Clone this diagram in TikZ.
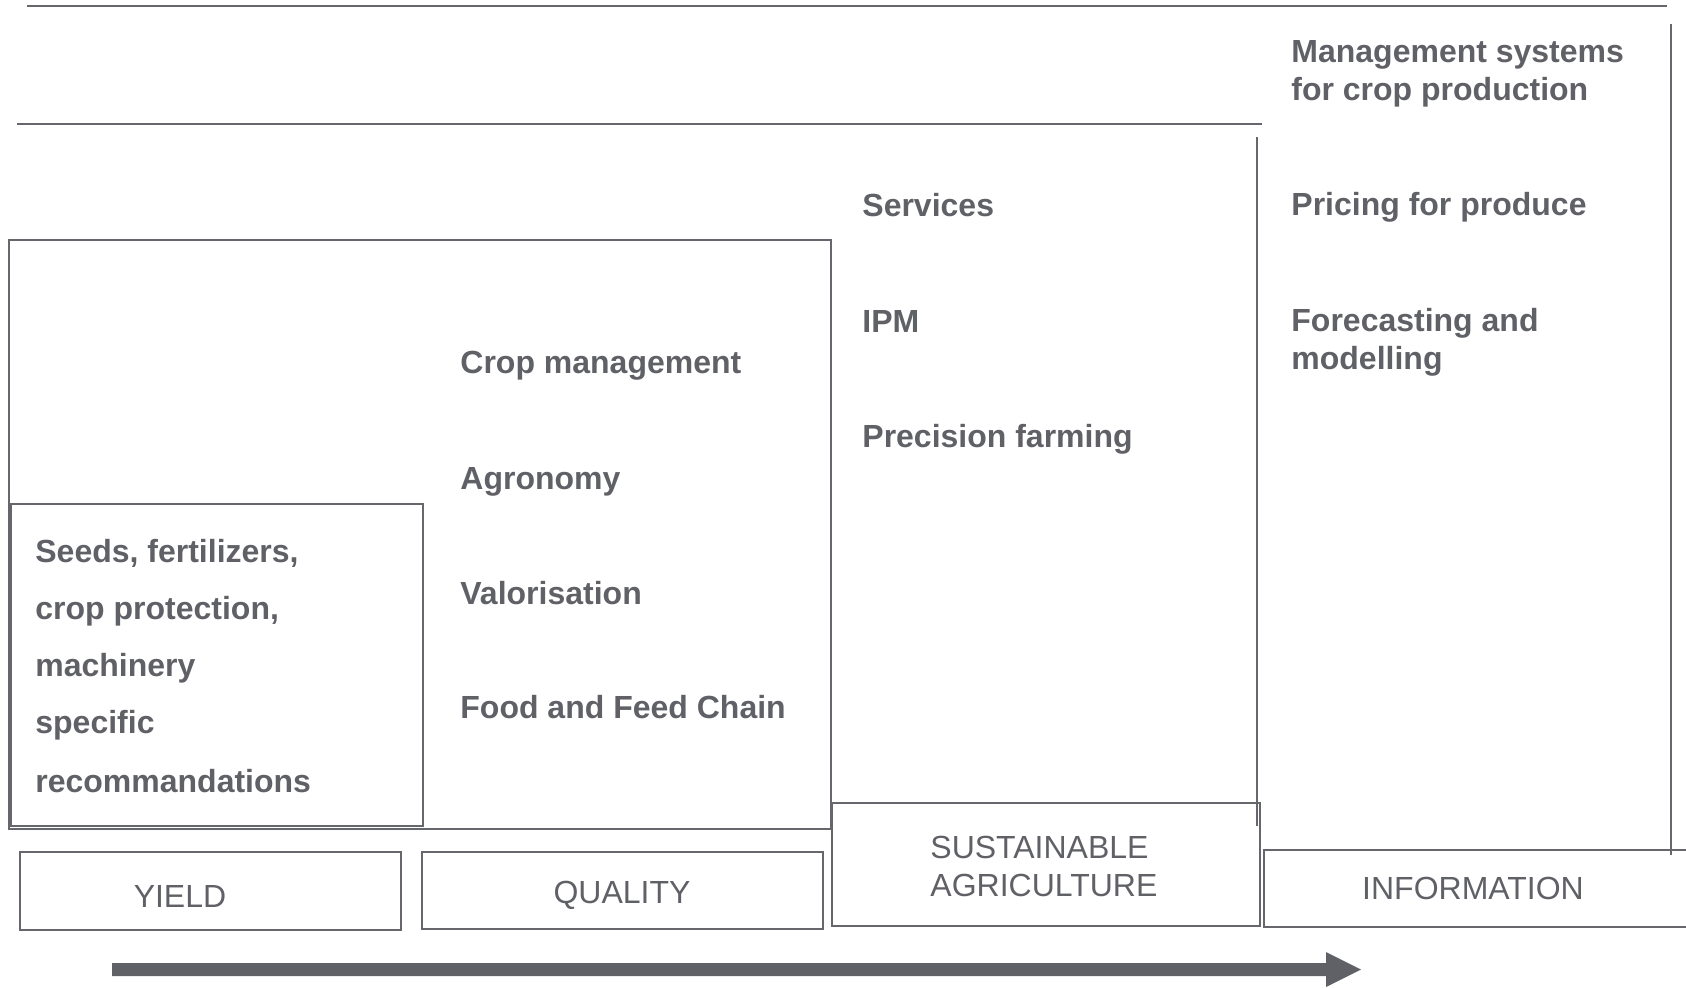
\documentclass[tikz,border=0pt]{standalone}
\usepackage{fontspec}
\setmainfont{Liberation Sans}
\definecolor{ink}{RGB}{96,97,103}
\definecolor{rule}{RGB}{102,103,108}
\begin{document}
\begin{tikzpicture}[x=0.5pt,y=-0.5pt,
  frame/.style={draw=rule,line width=1.3pt},
  item/.style={anchor=base west,inner sep=0pt,text=ink,
    font=\fontsize{16}{19}\selectfont\bfseries},
  tag/.style={anchor=base,inner sep=0pt,text=ink,
    font=\fontsize{16}{19}\selectfont},
  tagl/.style={tag,anchor=base west}]
\useasboundingbox (0,0) rectangle (1686,987);

% horizontal rules at the top
\draw[frame] (27,6) -- (1667,6);
\draw[frame] (17,124) -- (1262,124);

% nested frames
\draw[frame] (9,240) rectangle (831,829);
\draw[frame] (11,504) rectangle (423,826);
\draw[frame] (1257,137) -- (1257,826);
\draw[frame] (1671,24) -- (1671,855);

% category boxes
\draw[frame] (20,852) rectangle (401,930);
\draw[frame] (422,852) rectangle (823,929);
\draw[frame] (832,803) rectangle (1260,926);
\draw[frame] (1690,850) -- (1264,850) -- (1264,927) -- (1690,927);

% category labels
\node[tag]  (yield)   at (180,907) {YIELD};
\node[tag]  (quality) at (622,903) {QUALITY};
\node[tagl] (sust1)   at (930,858) {SUSTAINABLE};
\node[tagl] (sust2)   at (930,896) {AGRICULTURE};
\node[tag]  (info)    at (1473,899) {INFORMATION};

% yield items
\node[item] (y1) at (35,562) {Seeds, fertilizers,};
\node[item] (y2) at (35,619) {crop protection,};
\node[item] (y3) at (35,676) {machinery};
\node[item] (y4) at (35,733) {specific};
\node[item] (y5) at (35,792) {recommandations};

% quality items
\node[item] (q1) at (460,373) {Crop management};
\node[item] (q2) at (460,489) {Agronomy};
\node[item] (q3) at (460,604) {Valorisation};
\node[item] (q4) at (460,718) {Food and Feed Chain};

% sustainable agriculture items
\node[item] (s1) at (862,216) {Services};
\node[item] (s2) at (862,332) {IPM};
\node[item] (s3) at (862,447) {Precision farming};

% information items
\node[item] (i1) at (1291,62)  {Management systems};
\node[item] (i2) at (1291,100) {for crop production};
\node[item] (i3) at (1291,215) {Pricing for produce};
\node[item] (i4) at (1291,331) {Forecasting and};
\node[item] (i5) at (1291,369) {modelling};

% progression arrow
\fill[ink] (112,963) -- (1326,963) -- (1326,952) -- (1361,969.5)
  -- (1326,987) -- (1326,976) -- (112,976) -- cycle;
\end{tikzpicture}
\end{document}
